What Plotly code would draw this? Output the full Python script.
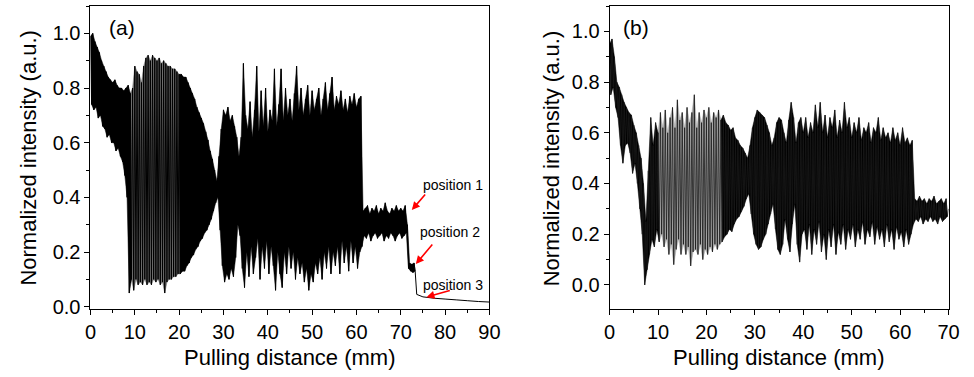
import numpy as np
import plotly.graph_objects as go

# ---------------- data ----------------
# Panel (a): local maxima at x = 0, 0.5, 1.0 ... 73.0 mm, local minima at x + 0.25 mm
step_a = 0.5
peaks_a = [
    0.99, 1.00, 0.97, 0.95, 0.93, 0.90, 0.88, 0.86, 0.84, 0.83,   # 0-4.5
    0.82, 0.83, 0.81, 0.80, 0.80, 0.79, 0.80, 0.81, 0.78, 0.80,   # 5-9.5
    0.88, 0.86, 0.85, 0.82, 0.88, 0.91, 0.92, 0.90, 0.92, 0.91,   # 10-14.5
    0.90, 0.91, 0.89, 0.90, 0.89, 0.88, 0.88, 0.87, 0.87, 0.86,   # 15-19.5
    0.85, 0.85, 0.84, 0.84, 0.82, 0.80, 0.78, 0.76, 0.73, 0.71,   # 20-24.5
    0.69, 0.67, 0.64, 0.61, 0.57, 0.54, 0.50, 0.46, 0.55, 0.65,   # 25-29.5
    0.72, 0.70, 0.73, 0.68, 0.70, 0.66, 0.62, 0.55, 0.62, 0.89,   # 30-34.5
    0.70, 0.65, 0.75, 0.62, 0.72, 0.88, 0.64, 0.79, 0.66, 0.80,   # 35-39.5
    0.64, 0.72, 0.68, 0.87, 0.66, 0.74, 0.87, 0.68, 0.80, 0.70,   # 40-44.5
    0.76, 0.68, 0.78, 0.88, 0.72, 0.80, 0.70, 0.76, 0.81, 0.70,   # 45-49.5
    0.79, 0.72, 0.76, 0.80, 0.70, 0.76, 0.82, 0.72, 0.78, 0.84,   # 50-54.5
    0.72, 0.77, 0.74, 0.79, 0.72, 0.76, 0.71, 0.77, 0.74, 0.78,   # 55-59.5
    0.73, 0.76, 0.77, 0.35, 0.36, 0.37, 0.34, 0.36, 0.35, 0.37,   # 60-64.5
    0.34, 0.36, 0.35, 0.38, 0.35, 0.34, 0.36, 0.35, 0.37, 0.35,   # 65-69.5
    0.36, 0.35, 0.37, 0.30, 0.16, 0.155, 0.16,                    # 70-73
]
troughs_a = [
    0.74, 0.72, 0.73, 0.69, 0.70, 0.66, 0.65, 0.62, 0.63, 0.60,   # 0.25-4.75
    0.60, 0.57, 0.58, 0.55, 0.53, 0.48, 0.40, 0.05, 0.10, 0.06,   # 5.25-9.75
    0.10, 0.08, 0.09, 0.08, 0.10, 0.08, 0.09, 0.08, 0.10, 0.09,   # 10.25-14.75
    0.10, 0.08, 0.09, 0.05, 0.09, 0.10, 0.10, 0.11, 0.11, 0.12,   # 15.25-19.75
    0.12, 0.13, 0.13, 0.15, 0.16, 0.18, 0.19, 0.21, 0.22, 0.24,   # 20.25-24.75
    0.25, 0.27, 0.28, 0.30, 0.32, 0.35, 0.38, 0.40, 0.28, 0.15,   # 25.25-29.75
    0.09, 0.12, 0.10, 0.14, 0.11, 0.18, 0.30, 0.26, 0.14, 0.07,   # 30.25-34.75
    0.20, 0.11, 0.22, 0.12, 0.18, 0.25, 0.10, 0.22, 0.14, 0.24,   # 35.25-39.75
    0.12, 0.22, 0.15, 0.06, 0.20, 0.12, 0.07, 0.20, 0.12, 0.22,   # 40.25-44.75
    0.14, 0.20, 0.10, 0.18, 0.12, 0.16, 0.09, 0.14, 0.06, 0.12,   # 45.25-49.75
    0.09, 0.16, 0.12, 0.18, 0.10, 0.20, 0.14, 0.22, 0.12, 0.20,   # 50.25-54.75
    0.15, 0.22, 0.12, 0.24, 0.16, 0.22, 0.13, 0.24, 0.16, 0.22,   # 55.25-59.75
    0.14, 0.20, 0.22, 0.26, 0.25, 0.27, 0.24, 0.26, 0.27, 0.25,   # 60.25-64.75
    0.26, 0.27, 0.24, 0.26, 0.25, 0.27, 0.26, 0.24, 0.26, 0.27,   # 65.25-69.75
    0.25, 0.26, 0.27, 0.14, 0.13, 0.125, 0.13,                    # 70.25-73.25
]
# flat tail after position 3
tail_x_a = [73.6, 75.0, 77.5, 80.0, 82.5, 85.0, 87.5, 90.0]
tail_y_a = [0.045, 0.036, 0.031, 0.028, 0.025, 0.022, 0.019, 0.017]

# Panel (b): local maxima at x = 0, 0.5 ... 69.5 mm, minima at x + 0.25 mm
step_b = 0.5
peaks_b = [
    0.95, 0.97, 0.90, 0.80, 0.78, 0.75, 0.72, 0.70, 0.68, 0.67,   # 0-4.5
    0.63, 0.60, 0.55, 0.50, 0.40, 0.25, 0.45, 0.66, 0.55, 0.64,   # 5-9.5
    0.60, 0.68, 0.62, 0.69, 0.60, 0.66, 0.70, 0.62, 0.73, 0.65,   # 10-14.5
    0.68, 0.62, 0.70, 0.64, 0.68, 0.75, 0.62, 0.68, 0.64, 0.69,   # 15-19.5
    0.66, 0.70, 0.64, 0.68, 0.66, 0.69, 0.65, 0.67, 0.64, 0.63,   # 20-24.5
    0.61, 0.62, 0.58, 0.57, 0.55, 0.54, 0.52, 0.50, 0.55, 0.62,   # 25-29.5
    0.66, 0.69, 0.68, 0.67, 0.66, 0.63, 0.60, 0.55, 0.58, 0.64,   # 30-34.5
    0.66, 0.65, 0.60, 0.56, 0.65, 0.72, 0.66, 0.56, 0.64, 0.66,   # 35-39.5
    0.60, 0.66, 0.58, 0.64, 0.60, 0.71, 0.62, 0.72, 0.60, 0.67,   # 40-44.5
    0.58, 0.66, 0.62, 0.69, 0.58, 0.65, 0.60, 0.72, 0.62, 0.66,   # 45-49.5
    0.58, 0.64, 0.60, 0.66, 0.57, 0.62, 0.60, 0.64, 0.56, 0.62,   # 50-54.5
    0.60, 0.66, 0.57, 0.62, 0.58, 0.60, 0.56, 0.62, 0.57, 0.60,   # 55-59.5
    0.55, 0.62, 0.56, 0.58, 0.55, 0.57, 0.34, 0.33, 0.35, 0.33,   # 60-64.5
    0.34, 0.32, 0.34, 0.33, 0.35, 0.32, 0.33, 0.34, 0.32, 0.34,   # 65-69.5
]
troughs_b = [
    0.75, 0.78, 0.70, 0.66, 0.55, 0.48, 0.55, 0.56, 0.52, 0.44,   # 0.25-4.75
    0.48, 0.40, 0.30, 0.20, 0.00, 0.06, 0.12, 0.18, 0.15, 0.22,   # 5.25-9.75
    0.17, 0.20, 0.15, 0.18, 0.12, 0.16, 0.08, 0.14, 0.18, 0.12,   # 10.25-14.75
    0.16, 0.12, 0.15, 0.075, 0.13, 0.14, 0.12, 0.16, 0.10, 0.14,  # 15.25-19.75
    0.12, 0.15, 0.13, 0.16, 0.14, 0.16, 0.17, 0.19, 0.20, 0.22,   # 20.25-24.75
    0.21, 0.24, 0.26, 0.27, 0.29, 0.31, 0.34, 0.36, 0.28, 0.20,   # 25.25-29.75
    0.16, 0.14, 0.15, 0.18, 0.20, 0.24, 0.28, 0.32, 0.22, 0.14,   # 30.25-34.75
    0.12, 0.16, 0.26, 0.18, 0.13, 0.24, 0.32, 0.16, 0.09, 0.20,   # 35.25-39.75
    0.22, 0.14, 0.24, 0.12, 0.22, 0.16, 0.25, 0.13, 0.20, 0.10,   # 40.25-44.75
    0.22, 0.15, 0.24, 0.12, 0.21, 0.16, 0.24, 0.14, 0.22, 0.18,   # 45.25-49.75
    0.24, 0.15, 0.22, 0.18, 0.25, 0.16, 0.22, 0.19, 0.25, 0.16,   # 50.25-54.75
    0.23, 0.18, 0.22, 0.15, 0.24, 0.17, 0.22, 0.14, 0.23, 0.18,   # 55.25-59.75
    0.21, 0.15, 0.22, 0.16, 0.20, 0.24, 0.26, 0.25, 0.27, 0.24,   # 60.25-64.75
    0.26, 0.25, 0.27, 0.25, 0.26, 0.24, 0.27, 0.25, 0.26, 0.27,   # 65.25-69.75
]
end_x_b = [70.0]
end_y_b = [0.30]

# regions (mm) where the trace prints solid black / dense grey
solid_a = [(0.0, 9.0), (20.0, 73.0)]
grey_a = [(9.0, 20.0)]
solid_b = [(0.0, 10.0), (23.0, 69.5)]
grey_b = [(10.0, 23.0)]

# annotation labels (panel a)
pos_labels = ["position 1", "position 2", "position 3"]
pos_text_x = [81.8, 81.2, 81.8]
pos_text_y = [0.445, 0.273, 0.079]
arrow_tail_x = [75.8, 77.4, 81.4]
arrow_tail_y = [0.416, 0.233, 0.061]
arrow_head_x = [72.5, 73.4, 75.8]
arrow_head_y = [0.354, 0.156, 0.035]


def zigzag(peaks, troughs, step, extra_x, extra_y):
    xs, ys = [], []
    for i, p in enumerate(peaks):
        xs.append(i * step)
        ys.append(p)
        if i < len(troughs):
            xs.append(i * step + step / 2)
            ys.append(troughs[i])
    return xs + list(extra_x), ys + list(extra_y)


def band(peaks, troughs, step, x0, x1):
    i0 = int(round(x0 / step))
    i1 = int(round(x1 / step))
    px = [i * step for i in range(i0, i1 + 1)]
    py = [peaks[i] for i in range(i0, i1 + 1)]
    tx = [i * step + step / 2 for i in range(i0, min(i1, len(troughs) - 1) + 1)]
    ty = [troughs[i] for i in range(i0, min(i1, len(troughs) - 1) + 1)]
    return px + tx[::-1] + [px[0]], py + ty[::-1] + [py[0]]


xa, ya = zigzag(peaks_a, troughs_a, step_a, tail_x_a, tail_y_a)
xb, yb = zigzag(peaks_b, troughs_b, step_b, end_x_b, end_y_b)

W, H = 974, 377
FONT = "Liberation Sans, Arial, sans-serif"
T, B = 6, 309          # plot top / bottom in px


def py_(px):
    return (B - px) / (B - T)


fig = go.Figure()


def add_band(peaks, troughs, step, x0, x1, color, xa_, ya_):
    bx, by = band(peaks, troughs, step, x0, x1)
    fig.add_trace(go.Scatter(x=bx, y=by, mode="lines", fill="toself",
                             fillcolor=color, xaxis=xa_, yaxis=ya_,
                             line=dict(color=color, width=0.5, simplify=False),
                             showlegend=False, hoverinfo="skip"))


for (x0, x1) in grey_a:
    add_band(peaks_a, troughs_a, step_a, x0, x1, "#6e6e6e", "x", "y")
for (x0, x1) in solid_a:
    add_band(peaks_a, troughs_a, step_a, x0, x1, "black", "x", "y")
for (x0, x1) in grey_b:
    add_band(peaks_b, troughs_b, step_b, x0, x1, "#a8a8a8", "x2", "y2")
for (x0, x1) in solid_b:
    add_band(peaks_b, troughs_b, step_b, x0, x1, "black", "x2", "y2")

fig.add_trace(go.Scatter(x=xa, y=ya, mode="lines", xaxis="x", yaxis="y",
                         line=dict(color="black", width=1, simplify=False),
                         showlegend=False, hoverinfo="skip"))
fig.add_trace(go.Scatter(x=xb, y=yb, mode="lines", xaxis="x2", yaxis="y2",
                         line=dict(color="#1a1a1a", width=0.8, simplify=False),
                         showlegend=False, hoverinfo="skip"))

axis_common = dict(
    showgrid=False, zeroline=False, showline=True, linecolor="black", linewidth=1,
    mirror=True, ticks="outside", ticklen=5, tickwidth=1, tickcolor="black",
    tickfont=dict(family=FONT, size=20, color="black"),
)

fig.update_layout(
    width=W, height=H,
    margin=dict(l=0, r=0, t=T, b=H - B),
    paper_bgcolor="white", plot_bgcolor="white",
    font=dict(family=FONT, color="black"),
    xaxis=dict(domain=[86 / W, 492 / W], range=[0, 90], dtick=10, tick0=0,
               minor=dict(dtick=5, ticks="outside", ticklen=3, tickcolor="black"),
               anchor="y", **axis_common),
    yaxis=dict(range=[-0.0084, 1.1], dtick=0.2, tick0=0, tickformat=".1f",
               minor=dict(dtick=0.1, ticks="outside", ticklen=3, tickcolor="black"),
               anchor="x", **axis_common),
    xaxis2=dict(domain=[614.3 / W, 959.3 / W], range=[0, 70], dtick=10, tick0=0,
                minor=dict(dtick=5, ticks="outside", ticklen=3, tickcolor="black"),
                anchor="y2", **axis_common),
    yaxis2=dict(range=[-0.095, 1.1], dtick=0.2, tick0=0, tickformat=".1f",
                minor=dict(dtick=0.1, ticks="outside", ticklen=3, tickcolor="black"),
                anchor="x2", **axis_common),
)

ann = []
for cx in [(86 + 492) / 2 / W, (614.3 + 959.3) / 2 / W]:
    ann.append(dict(text="Pulling distance (mm)", x=cx, y=py_(357),
                    xref="paper", yref="paper", showarrow=False,
                    font=dict(family=FONT, size=22, color="black"),
                    xanchor="center", yanchor="middle"))
for cx in [22 / W, 555 / W]:
    ann.append(dict(text="Normalized intensity (a.u.)", x=cx, y=py_(158),
                    xref="paper", yref="paper", showarrow=False, textangle=-90,
                    font=dict(family=FONT, size=22, color="black"),
                    xanchor="center", yanchor="middle"))
ann.append(dict(text="(a)", x=118 / W, y=py_(28), xref="paper", yref="paper",
                showarrow=False, font=dict(family=FONT, size=21, color="black"),
                xanchor="center", yanchor="middle"))
ann.append(dict(text="(b)", x=641 / W, y=py_(28), xref="paper", yref="paper",
                showarrow=False, font=dict(family=FONT, size=21, color="black"),
                xanchor="center", yanchor="middle"))
for lab, tx, ty, ax_, ay_, hx, hy in zip(pos_labels, pos_text_x, pos_text_y,
                                         arrow_tail_x, arrow_tail_y,
                                         arrow_head_x, arrow_head_y):
    ann.append(dict(text=lab, x=tx, y=ty, xref="x", yref="y", showarrow=False,
                    font=dict(family=FONT, size=14, color="black"),
                    xanchor="center", yanchor="middle"))
    ann.append(dict(text="", x=hx, y=hy, ax=ax_, ay=ay_, xref="x", yref="y",
                    axref="x", ayref="y", showarrow=True, arrowhead=2,
                    arrowsize=1, arrowwidth=1.6, arrowcolor="red"))
fig.update_layout(annotations=ann)

fig.write_html("out.html")
